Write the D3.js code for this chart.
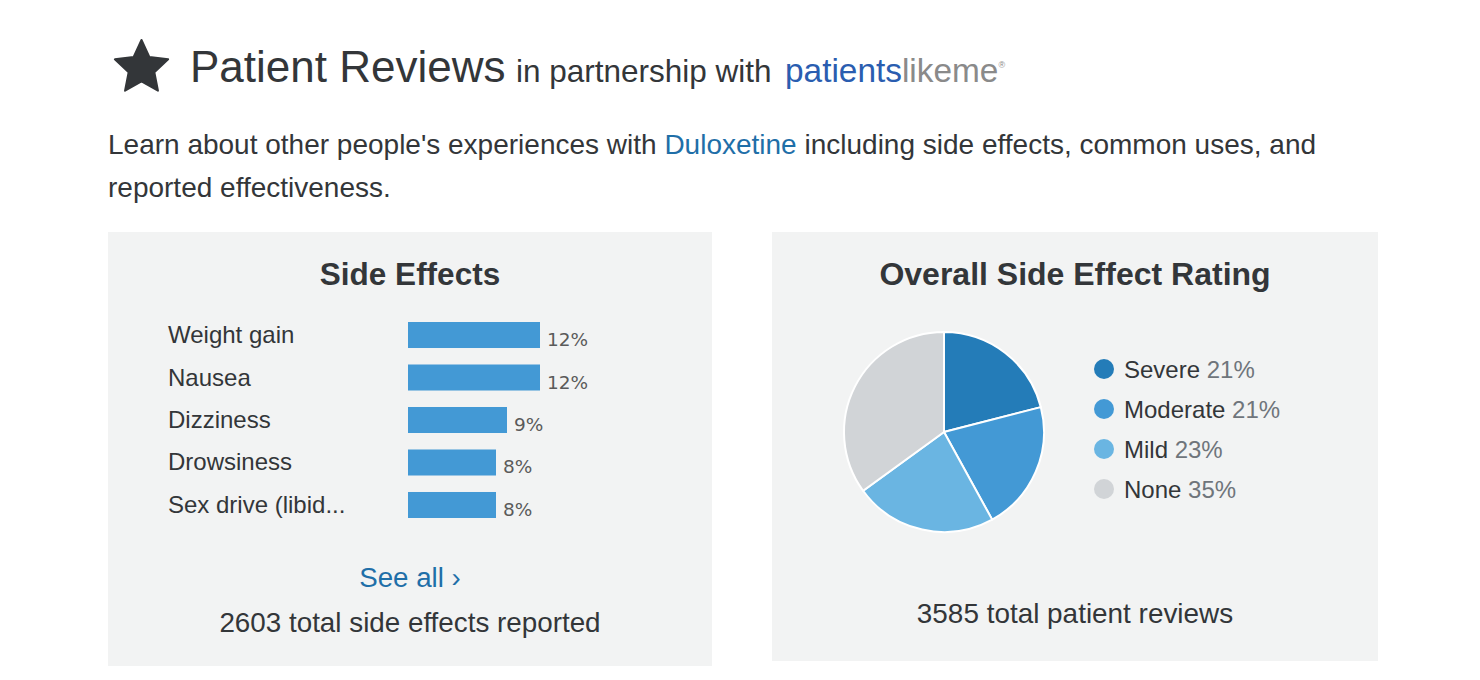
<!DOCTYPE html>
<html>
<head>
<meta charset="utf-8">
<script src="https://cdn.jsdelivr.net/npm/d3@7"></script>
<style>
  body { margin: 0; background: #fff; overflow: hidden; }
  text { font-family: "Liberation Sans", Arial, sans-serif; }
</style>
</head>
<body>
<div id="chart"></div>
<script>
// --- Data ---
const effects = ["Weight gain", "Nausea", "Dizziness", "Drowsiness", "Sex drive (libid..."];
const effectPct = [12, 12, 9, 8, 8];
const ratings = ["Severe", "Moderate", "Mild", "None"];
const ratingPct = [21, 21, 23, 35];
const ratingColors = ["#247cb8", "#4399d5", "#6ab5e2", "#d1d4d7"];
const totalEffects = 2603, totalReviews = 3585;

const W = 1480, H = 680;
const ink = "#333639";

const svg = d3.select("#chart").append("svg")
  .attr("width", W).attr("height", H);

// --- Header ---
// fat five-point star icon
const starPts = d3.range(10).map(i => [i * Math.PI / 5, i % 2 ? 13.5 : 28]);
const starPath = d3.lineRadial().curve(d3.curveLinearClosed)(starPts);
svg.append("path").attr("d", starPath)
  .attr("transform", "translate(141.5,68)")
  .attr("fill", ink).attr("stroke", ink).attr("stroke-width", 2).attr("stroke-linejoin", "round");

const head = svg.append("text").attr("y", 82).attr("fill", ink);
head.append("tspan").attr("x", 190).attr("font-size", 44).text("Patient Reviews");
head.append("tspan").attr("x", 516).attr("font-size", 31.5).text("in partnership with");
head.append("tspan").attr("x", 785).attr("font-size", 33.4).attr("fill", "#2a5db0").text("patients");
head.append("tspan").attr("font-size", 33.4).attr("fill", "#8a8a8a").text("likeme");
head.append("tspan").attr("font-size", 9).attr("dy", -14).attr("fill", "#8a8a8a").text("®");

const intro = svg.append("text").attr("font-size", 28).attr("fill", ink);
const l1 = intro.append("tspan").attr("x", 108).attr("y", 154);
l1.append("tspan").text("Learn about other people's experiences with ");
l1.append("tspan").attr("fill", "#1f6fa8").text("Duloxetine");
l1.append("tspan").text(" including side effects, common uses, and");
intro.append("tspan").attr("x", 108).attr("y", 197).text("reported effectiveness.");

// --- Panels ---
svg.append("rect").attr("x", 108).attr("y", 232).attr("width", 604).attr("height", 434).attr("fill", "#f2f3f3");
svg.append("rect").attr("x", 772).attr("y", 232).attr("width", 606).attr("height", 429).attr("fill", "#f2f3f3");

// --- Side effects bars ---
svg.append("text").attr("x", 410).attr("y", 285).attr("text-anchor", "middle")
  .attr("font-size", 31.5).attr("font-weight", "bold").attr("fill", ink).text("Side Effects");

const y = d3.scaleBand().domain(effects).range([322, 518]).paddingInner(0.388).paddingOuter(0);
const x = d3.scaleLinear().domain([0, 12]).range([408, 540]);

const rows = svg.append("g").selectAll("g").data(effects).join("g");
rows.append("text").attr("x", 168).attr("y", d => y(d) + y.bandwidth() / 2 + 8)
  .attr("font-size", 24).attr("fill", ink).text(d => d);
rows.append("rect").attr("x", x(0)).attr("y", d => y(d))
  .attr("width", (d, i) => x(effectPct[i]) - x(0)).attr("height", y.bandwidth())
  .attr("fill", "#4399d5");
rows.append("text").attr("x", (d, i) => x(effectPct[i]) + 7).attr("y", d => y(d) + y.bandwidth() / 2 + 11)
  .style("font-family", "'DejaVu Sans'")
  .attr("font-size", 18.5).attr("fill", "#5a5a5a").text((d, i) => effectPct[i] + "%");

svg.append("text").attr("x", 410).attr("y", 587).attr("text-anchor", "middle")
  .attr("font-size", 27.7).attr("fill", "#1f6fa8").text("See all ›");
svg.append("text").attr("x", 410).attr("y", 632).attr("text-anchor", "middle")
  .attr("font-size", 27.8).attr("fill", ink).text(`${totalEffects} total side effects reported`);

// --- Rating pie ---
svg.append("text").attr("x", 1075).attr("y", 285).attr("text-anchor", "middle")
  .attr("font-size", 32).attr("font-weight", "bold").attr("fill", ink).text("Overall Side Effect Rating");

const pie = d3.pie().sort(null).value(d => d)(ratingPct);
const arc = d3.arc().innerRadius(0).outerRadius(100);
svg.append("g").attr("transform", "translate(944,432)")
  .selectAll("path").data(pie).join("path")
  .attr("d", arc).attr("fill", (d, i) => ratingColors[i])
  .attr("stroke", "#fff").attr("stroke-width", 2);

const ly = d3.scalePoint().domain(ratings).range([369, 489]);
const leg = svg.append("g").selectAll("g").data(ratings).join("g");
leg.append("circle").attr("cx", 1104).attr("cy", d => ly(d)).attr("r", 10)
  .attr("fill", (d, i) => ratingColors[i]);
const lt = leg.append("text").attr("x", 1124).attr("y", d => ly(d) + 8.5).attr("font-size", 24);
lt.append("tspan").attr("fill", ink).text(d => d + " ");
lt.append("tspan").attr("fill", "#6f757b").text((d, i) => ratingPct[i] + "%");

svg.append("text").attr("x", 1075).attr("y", 623).attr("text-anchor", "middle")
  .attr("font-size", 27.9).attr("fill", ink).text(`${totalReviews} total patient reviews`);
</script>
</body>
</html>
